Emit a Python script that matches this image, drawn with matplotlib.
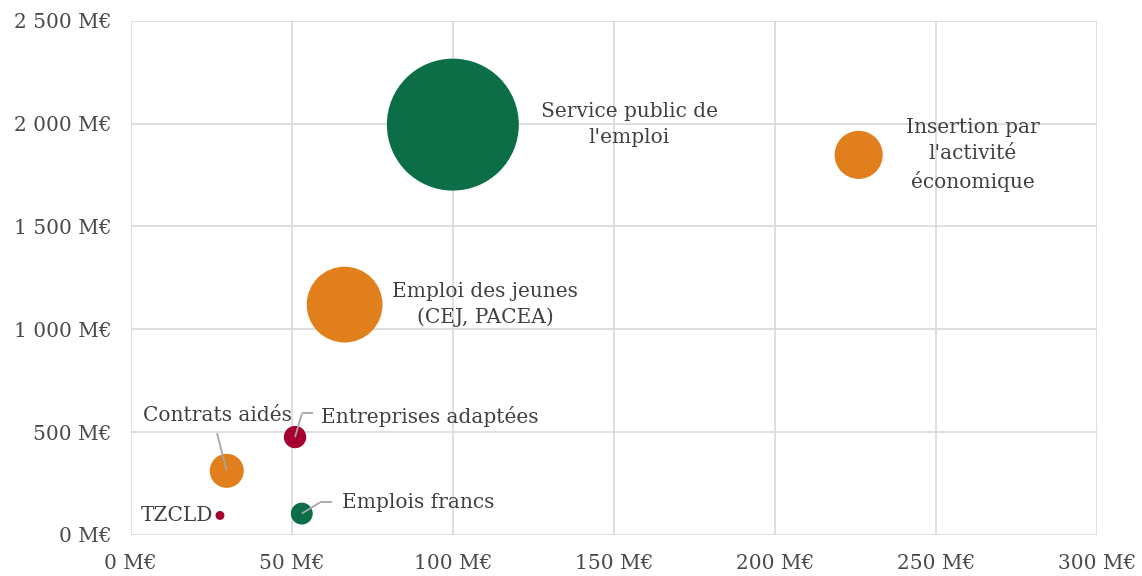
import matplotlib
matplotlib.use("Agg")
import matplotlib.pyplot as plt
import matplotlib.transforms as mtransforms
from matplotlib.ticker import FuncFormatter, MultipleLocator

# ---- data ----
labels = ["Service public de\nl'emploi", "Insertion par\nl'activité\néconomique",
          "Emploi des jeunes\n(CEJ, PACEA)", "Contrats aidés", "Entreprises adaptées",
          "Emplois francs", "TZCLD"]
x_vals = [100, 226, 66.4, 29.8, 51, 53.1, 27.7]        # M€
y_vals = [1995, 1848, 1120, 312, 476, 104, 95]         # M€
bubble_sizes = [4360, 580, 1440, 290, 125, 120, 20]    # relative bubble area
groups = ["vert", "orange", "orange", "orange", "rouge", "vert", "rouge"]

colors = {"vert": "#0b6e46", "orange": "#e07f1b", "rouge": "#a50030"}

plt.rcParams['font.family'] = ['DejaVu Serif']

fig = plt.figure(figsize=(11.42, 5.76), dpi=100)
ax = fig.add_axes([0.1145, 0.0712, 0.8461, 0.8928])

scale = 2.07
ax.scatter(x_vals, y_vals, s=[b * scale for b in bubble_sizes],
           c=[colors[g] for g in groups], linewidths=0, zorder=3)

ax.set_xlim(0, 300)
ax.set_ylim(0, 2500)
ax.xaxis.set_major_locator(MultipleLocator(50))
ax.yaxis.set_major_locator(MultipleLocator(500))

def fmt(v, pos):
    s = f"{int(round(v)):,}".replace(",", " ")
    return f"{s} M€"

ax.xaxis.set_major_formatter(FuncFormatter(fmt))
ax.yaxis.set_major_formatter(FuncFormatter(fmt))
ax.grid(True, color="#d9d9d9", linewidth=1.2, zorder=0)
for sp in ax.spines.values():
    sp.set_visible(False)
ax.tick_params(length=0, labelsize=14.5, colors="#4a4a4a")
ax.tick_params(axis='y', pad=14)
ax.tick_params(axis='x', pad=14)

txt_kw = dict(fontsize=14.5, color="#404040", zorder=5)

# label offsets in points: (dx, dy, ha)
offsets = [(127, 0, "center"), (82, 0, "center"), (101, 0, "center"),
           (-7, 40, "center"), (19, 15, "left"), (29, 8, "left"), (-5, 0, "right")]
for lab, x, y, (dx, dy, ha) in zip(labels, x_vals, y_vals, offsets):
    ax.annotate(lab, (x, y), xytext=(dx, dy), textcoords="offset points",
                ha=ha, va="center", multialignment="center", linespacing=1.45, **txt_kw)

def leader(x, y, pts):
    for (p1, p2) in zip(pts[:-1], pts[1:]):
        t1 = mtransforms.offset_copy(ax.transData, fig=fig, x=p1[0], y=p1[1], units="points")
        t2 = mtransforms.offset_copy(ax.transData, fig=fig, x=p2[0], y=p2[1], units="points")
        d1 = t1.transform((x, y))
        d2 = t2.transform((x, y))
        ax.plot([d1[0], d2[0]], [d1[1], d2[1]], transform=None,
                color="#a6a6a6", lw=1.3, zorder=4, solid_capstyle="butt")

# Contrats aidés
leader(x_vals[3], y_vals[3], [(0, 0), (-7, 27)])
# Entreprises adaptées
leader(x_vals[4], y_vals[4], [(0, 0), (5, 17), (13, 17)])
# Emplois francs
leader(x_vals[5], y_vals[5], [(0, 0), (13, 8), (22, 8)])

fig.savefig("out.png", dpi=100)
